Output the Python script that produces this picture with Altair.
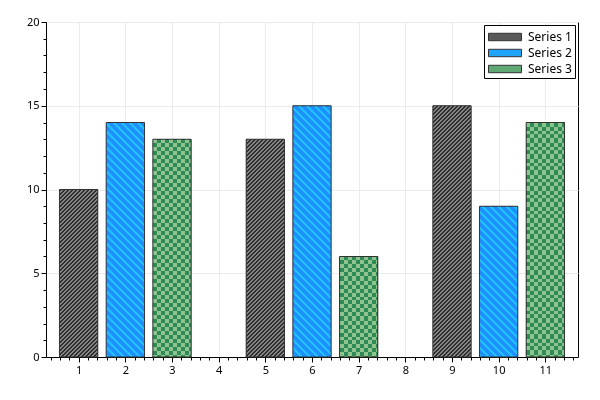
import altair as alt
import pandas as pd

# ---- data ----
positions = [1, 2, 3, 5, 6, 7, 9, 10, 11]
values = [10, 14, 13, 13, 15, 6, 15, 9, 14]
series = ["Series 1", "Series 2", "Series 3", "Series 1", "Series 2", "Series 3",
          "Series 1", "Series 2", "Series 3"]
series_names = ["Series 1", "Series 2", "Series 3"]
x_ticks = list(range(1, 12))
y_ticks = [0, 5, 10, 15, 20]
x_minor = [round(0.4 + 0.2 * k, 1) for k in range(57) if abs((0.4 + 0.2 * k) - round(0.4 + 0.2 * k)) > 1e-6]
y_minor = [v for v in range(0, 21) if v % 5 != 0]

# ---- layout / style ----
W, H = 532, 335
X_DOMAIN = [0.3, 11.7]
Y_DOMAIN = [0, 20]
HALF = 0.41
FONT = "Noto Sans"

df = pd.DataFrame({"idx": list(range(len(values))), "pos": positions,
                   "value": values, "series": series})

bar_w = 2 * HALF * W / (X_DOMAIN[1] - X_DOMAIN[0])


def bar_h(v):
    return v * H / (Y_DOMAIN[1] - Y_DOMAIN[0])


def stripes(length, period, frac, ca, cb):
    stops = []
    k = 0
    while k * period < length:
        s = round(k * period / length, 5)
        m = round(min((k + frac) * period / length, 1), 5)
        e = round(min((k + 1) * period / length, 1), 5)
        stops += [{"offset": s, "color": ca}, {"offset": m, "color": ca},
                  {"offset": m, "color": cb}, {"offset": e, "color": cb}]
        k += 1
    return stops


def diag(w, h, period, frac, ca, cb, up=True):
    r = h / w
    s = (1 + r) / (1 + r * r)
    st = stripes(w + h, period, frac, ca, cb)
    if up:
        return {"gradient": "linear", "x1": 0, "y1": 0, "x2": s, "y2": s * r, "stops": st}
    return {"gradient": "linear", "x1": 0, "y1": 1, "x2": s, "y2": 1 - s * r, "stops": st}


def straight(length, period, frac, ca, cb, vertical_stripes=True):
    st = stripes(length, period, frac, ca, cb)
    if vertical_stripes:
        return {"gradient": "linear", "x1": 0, "y1": 0, "x2": 1, "y2": 0, "stops": st}
    return {"gradient": "linear", "x1": 0, "y1": 0, "x2": 0, "y2": 1, "stops": st}


S1_DARK, S1_LIGHT = "#2e2e2e", "#858585"
S2_BASE, S2_STRIPE = "#1e90ff", "#20c0ff"
S3_DARK, S3_LIGHT = "#2e8b57", "#8fc48f"
legend_colors = ["#5a5a5a", "#1ea4ff", "#5fa773"]

x_scale = alt.Scale(domain=X_DOMAIN, nice=False, zero=False)
y_scale = alt.Scale(domain=Y_DOMAIN, nice=False, zero=False)

base = alt.Chart(df).transform_calculate(
    lo=f"datum.pos - {HALF}", hi=f"datum.pos + {HALF}", zero="0"
)


def enc(chart, xaxis=None, yaxis=None):
    return chart.encode(
        x=alt.X("lo:Q", scale=x_scale, axis=xaxis, title=None),
        x2="hi:Q",
        y=alt.Y("value:Q", scale=y_scale, axis=yaxis, title=None),
        y2="zero:Q",
    )


major_x = alt.Axis(values=x_ticks, orient="bottom", grid=True, tickSize=5, format="d",
                   labelPadding=2)
major_y = alt.Axis(values=y_ticks, orient="left", grid=True, tickSize=5, format="d",
                   labelPadding=2)
minor_x = alt.Axis(values=x_minor, orient="bottom", grid=False, tickSize=3, labels=False,
                   domain=False)
minor_y = alt.Axis(values=y_minor, orient="left", grid=False, tickSize=3, labels=False,
                   domain=False)

solid = enc(base.mark_bar(), major_x, major_y).encode(
    fill=alt.Fill("series:N",
                  scale=alt.Scale(domain=series_names, range=legend_colors),
                  legend=alt.Legend(title=None, orient="top-right", offset=3))
)

layers = [solid]
for i, (v, s) in enumerate(zip(values, series)):
    h = bar_h(v)
    sub = base.transform_filter(f"datum.idx == {i}")
    if s == "Series 1":
        layers.append(enc(sub.mark_bar(fill=diag(bar_w, h, 4, 0.5, S1_DARK, S1_LIGHT, True))))
    elif s == "Series 2":
        layers.append(enc(sub.mark_bar(fill=diag(bar_w, h, 8, 0.375, S2_STRIPE, S2_BASE, False))))
    else:
        layers.append(enc(sub.mark_bar(fill=straight(bar_w, 8, 0.5, S3_LIGHT, "#000000", True))))
        layers.append(enc(sub.mark_bar(fill=straight(h, 8, 0.5, "#000000", S3_LIGHT, False),
                                       blend="difference")))
        layers.append(enc(sub.mark_bar(fill=S3_DARK, blend="lighten")))

outline = enc(base.mark_bar(fill="transparent", stroke="#333333", strokeWidth=1),
              minor_x, minor_y)
layers.append(outline)

chart = alt.layer(*layers).resolve_axis(x="independent", y="independent").properties(
    width=W, height=H, autosize=alt.AutoSizeParams(type="none"),
    padding={"left": 38, "top": 14, "right": 14, "bottom": 30},
).configure_view(
    stroke="black", strokeWidth=1
).configure_axis(
    labelFont=FONT, labelFontSize=11, labelColor="#000000", tickColor="#000000",
    domainColor="#000000", gridColor="#ebebeb", gridWidth=1, tickWidth=1, domainWidth=1
).configure_legend(
    labelFont=FONT, labelFontSize=12, labelColor="#000000",
    strokeColor="#000000", fillColor="#ffffff", padding=3,
    symbolType="M-2,-0.45H2V0.45H-2Z", symbolSize=272, symbolOffset=9,
    symbolStrokeColor="#333333", symbolStrokeWidth=1, symbolOpacity=1,
    rowPadding=1, labelOffset=14
)

chart.save("out.html", embed_options={"renderer": "svg", "actions": False})
